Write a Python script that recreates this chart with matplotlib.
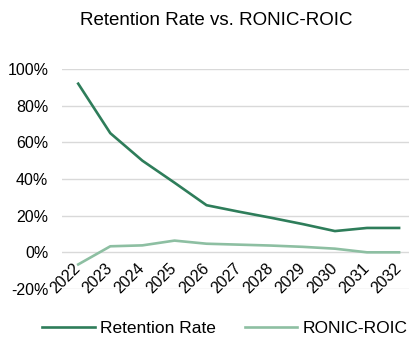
import matplotlib.pyplot as plt
from matplotlib.ticker import FuncFormatter

plt.rcParams['font.family'] = ['Liberation Sans', 'DejaVu Sans']

years = [str(y) for y in range(2022, 2033)]
retention_rate = [92, 65, 50, 38, 25.7, 22.2, 18.9, 15.4, 11.6, 13.3, 13.3]
ronic_roic = [-6.6, 3.3, 3.8, 6.4, 4.7, 4.2, 3.7, 3.0, 2.0, 0.0, 0.0]

fig = plt.figure(figsize=(4.09, 3.4), dpi=100)
ax = fig.add_axes([0.152, 0.15, 0.863, 0.647])

x = range(len(years))
ax.plot(x, retention_rate, color='#2E7D5A', lw=1.9, label='Retention Rate')
ax.plot(x, ronic_roic, color='#8DBFA2', lw=1.9, label='RONIC-ROIC')

ax.set_ylim(-20, 100)
ax.set_xlim(-0.5, 10.5)
ax.set_yticks(range(-20, 101, 20))
ax.yaxis.set_major_formatter(FuncFormatter(lambda v, _: f'{v:.0f}%'))

# category axis crosses at 0%, so the year labels sit just under the zero line
ax.spines['bottom'].set_position(('data', 0))
ax.set_xticks(list(x))
ax.set_xticklabels(years, rotation=45, ha='right', va='center', rotation_mode='anchor')
ax.tick_params(axis='both', length=0, labelsize=11.5, colors='black')
ax.tick_params(axis='x', pad=10)
ax.tick_params(axis='y', pad=10)

ax.grid(axis='y', color='#D9D9D9', lw=1)
ax.set_axisbelow(True)
for s in ax.spines.values():
    s.set_visible(False)

fig.text(0.529, 0.94, 'Retention Rate vs. RONIC-ROIC', ha='center', va='center', fontsize=13.5)
fig.legend(loc='center', bbox_to_anchor=(0.55, 0.035), ncol=2, frameon=False,
           fontsize=12.5, handlelength=3.0, handletextpad=0.3, columnspacing=1.7,
           borderpad=0.1)

fig.savefig('out.png', dpi=100)
